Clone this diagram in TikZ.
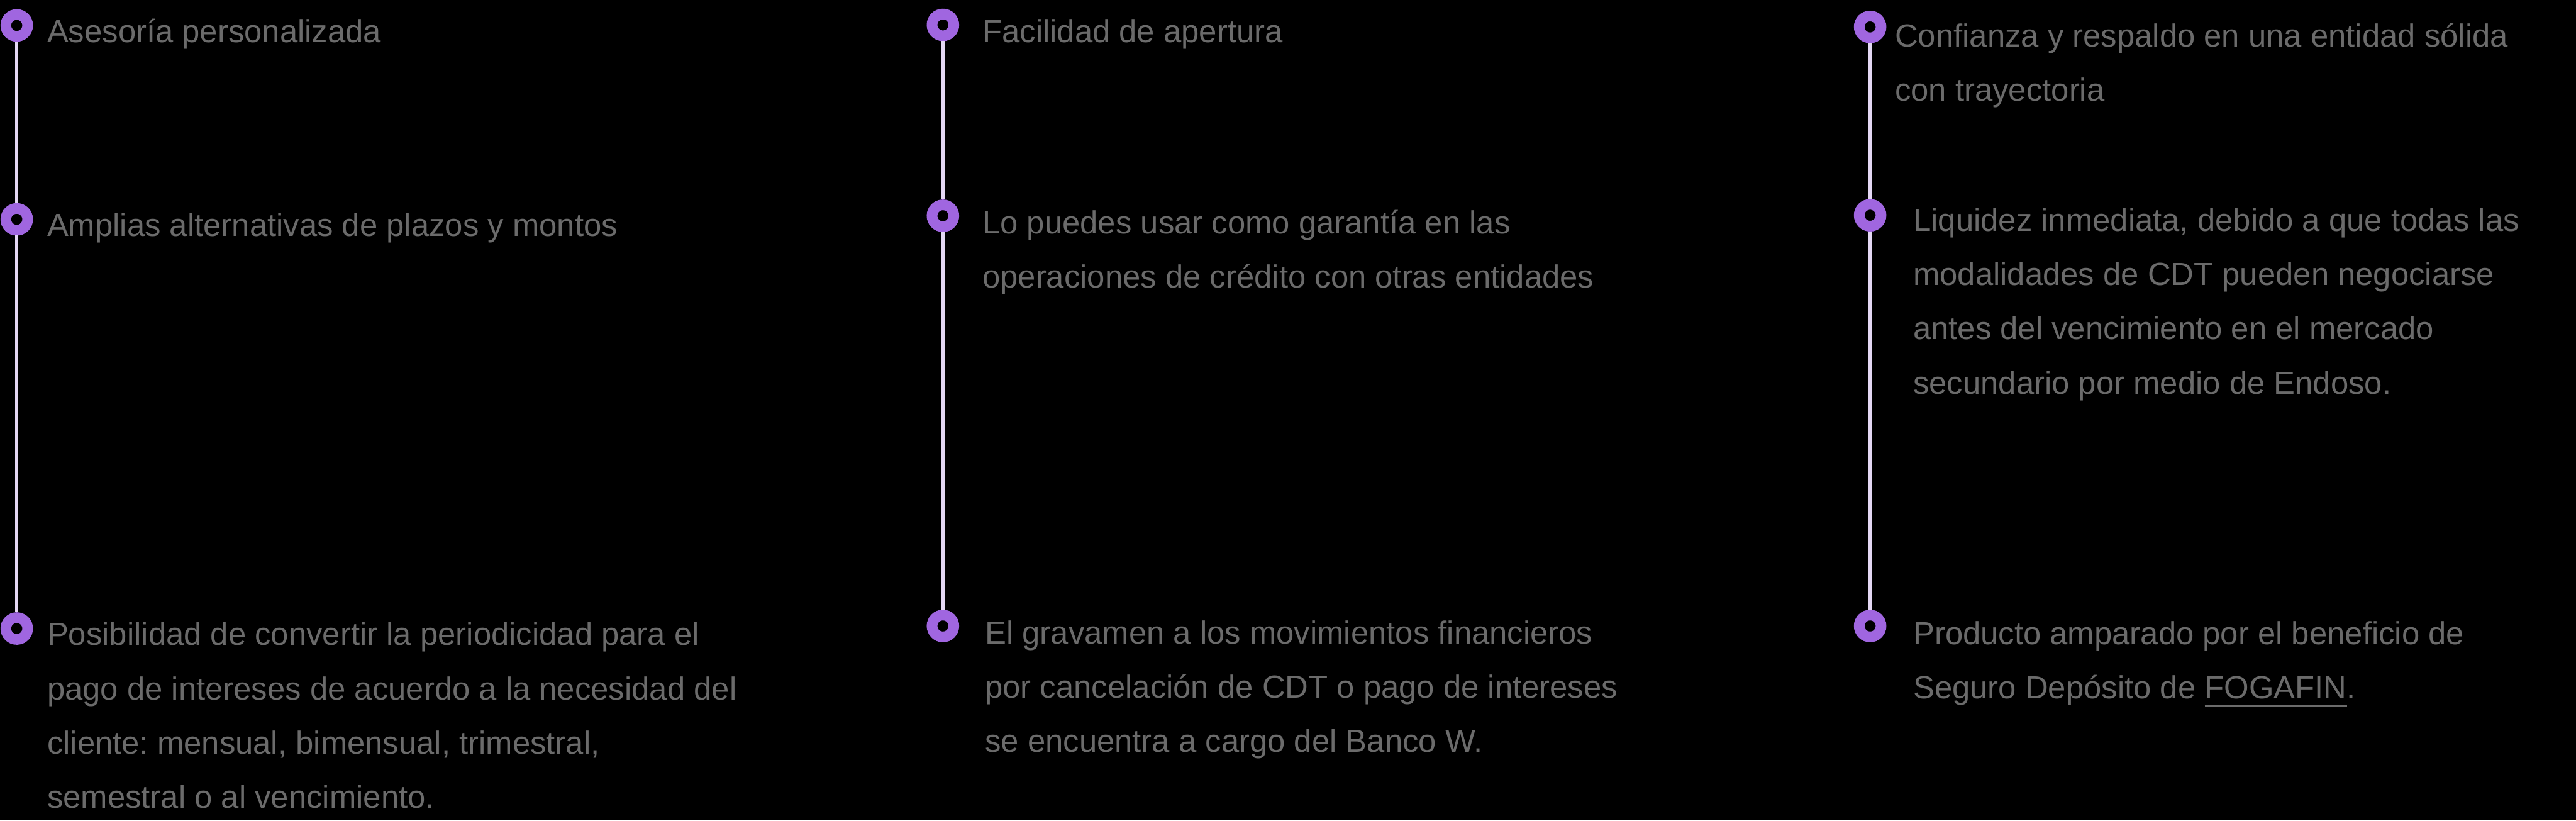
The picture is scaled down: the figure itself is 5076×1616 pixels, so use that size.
\documentclass[tikz,border=0pt]{standalone}
\usepackage{fontspec}
\setmainfont{Liberation Sans}
\frenchspacing
\definecolor{ringc}{HTML}{A066E0}
\definecolor{linec}{HTML}{E4D8F4}
\definecolor{txtc}{HTML}{6B6B6B}
\begin{document}
\begin{tikzpicture}[x=0.1pt,y=-0.1pt,
  ring/.style={circle, draw=ringc, line width=2.1pt, fill=black, minimum size=4.3pt, inner sep=0pt},
  txt/.style={anchor=base west, inner sep=0pt, text=txtc, font=\fontsize{6.3pt}{10.7pt}\selectfont},
  vline/.style={draw=linec, line width=0.55pt}]
\fill[black] (0,0) rectangle (5076,1616);
\useasboundingbox (0,0) rectangle (5076,1616);
% column 1
\node[ring] (a1) at (33,50) {};
\node[ring] (a2) at (33,432) {};
\node[ring] (a3) at (33,1238) {};
\draw[vline] (a1) -- (a2) -- (a3);
\node[txt] (ta1) at (91,84) {Asesoría personalizada};
\node[txt] (ta2) at (91,465) {Amplias alternativas de plazos y montos};
\node[txt] (ta3) at (91,1271) {\begin{tabular}[t]{@{}l@{}}Posibilidad de convertir la periodicidad para el\\ pago de intereses de acuerdo a la necesidad del\\ cliente: mensual, bimensual, trimestral,\\ semestral o al vencimiento.\end{tabular}};
% column 2
\node[ring] (b1) at (1858,49) {};
\node[ring] (b2) at (1858,425) {};
\node[ring] (b3) at (1858,1233) {};
\draw[vline] (b1) -- (b2) -- (b3);
\node[txt] (tb1) at (1934,84) {Facilidad de apertura};
\node[txt] (tb2) at (1934,460) {\begin{tabular}[t]{@{}l@{}}Lo puedes usar como garantía en las\\ operaciones de crédito con otras entidades\end{tabular}};
\node[txt] (tb3) at (1939,1268) {\begin{tabular}[t]{@{}l@{}}El gravamen a los movimientos financieros\\ por cancelación de CDT o pago de intereses\\ se encuentra a cargo del Banco W.\end{tabular}};
% column 3
\node[ring] (c1) at (3685,53) {};
\node[ring] (c2) at (3685,424) {};
\node[ring] (c3) at (3685,1233) {};
\draw[vline] (c1) -- (c2) -- (c3);
\node[txt] (tc1) at (3732,92) {\begin{tabular}[t]{@{}l@{}}Confianza y respaldo en una entidad sólida\\ con trayectoria\end{tabular}};
\node[txt] (tc2) at (3768,455) {\begin{tabular}[t]{@{}l@{}}Liquidez inmediata, debido a que todas las\\ modalidades de CDT pueden negociarse\\ antes del vencimiento en el mercado\\ secundario por medio de Endoso.\end{tabular}};
\node[txt] (tc3) at (3768,1269) {\begin{tabular}[t]{@{}l@{}}Producto amparado por el beneficio de\\ Seguro Depósito de \underline{FOGAFIN}.\end{tabular}};
\end{tikzpicture}
\end{document}
